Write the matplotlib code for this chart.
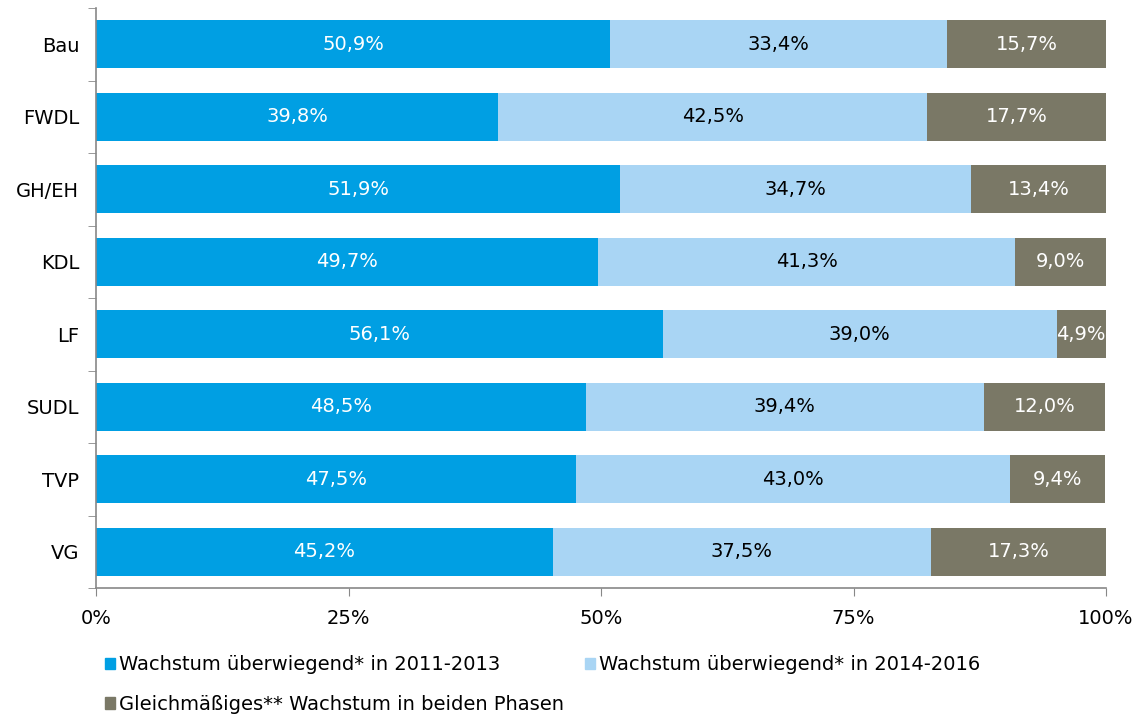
import matplotlib
matplotlib.use("Agg")
import matplotlib.pyplot as plt
from matplotlib.patches import Patch
import numpy as np

categories = ["Bau", "FWDL", "GH/EH", "KDL", "LF", "SUDL", "TVP", "VG"]
s1 = [50.9, 39.8, 51.9, 49.7, 56.1, 48.5, 47.5, 45.2]
s2 = [33.4, 42.5, 34.7, 41.3, 39.0, 39.4, 43.0, 37.5]
s3 = [15.7, 17.7, 13.4, 9.0, 4.9, 12.0, 9.4, 17.3]
series_names = ["Wachstum überwiegend* in 2011-2013",
                "Wachstum überwiegend* in 2014-2016",
                "Gleichmäßiges** Wachstum in beiden Phasen"]
colors = ["#009FE3", "#A9D5F4", "#7A7866"]
text_colors = ["white", "black", "white"]
xticks = [0, 25, 50, 75, 100]
xticklabels = ["0%", "25%", "50%", "75%", "100%"]

FS = 14
plt.rcParams['font.family'] = ['DejaVu Sans']
fig = plt.figure(figsize=(11.44, 7.16), dpi=100)
ax = fig.add_axes([96/1144, 1-588/716, (1106-96)/1144, (588-8)/716])

y = np.arange(len(categories))
left = np.zeros(len(categories))
for vals, col, tc in zip([s1, s2, s3], colors, text_colors):
    vals = np.array(vals)
    ax.barh(y, vals, left=left, height=0.66, color=col)
    for yi, l, v in zip(y, left, vals):
        ax.text(l + v/2, yi, f"{v:.1f}%".replace(".", ","), ha="center", va="center",
                color=tc, fontsize=FS)
    left = left + vals

ax.set_xlim(0, 100)
ax.set_ylim(len(categories)-0.5, -0.5)
ax.set_yticks(y)
ax.set_yticklabels(categories, fontsize=FS)
ax.set_yticks(np.arange(-0.5, len(categories), 1), minor=True)
ax.tick_params(axis="y", which="major", length=0, pad=12)
ax.tick_params(axis="y", which="minor", length=6, color="#888888", direction="out")
ax.set_xticks(xticks)
ax.set_xticklabels(xticklabels, fontsize=FS)
ax.tick_params(axis="x", length=6, color="#888888", pad=9)
for s in ["top", "right"]:
    ax.spines[s].set_visible(False)
for s in ["left", "bottom"]:
    ax.spines[s].set_color("#888888")
    ax.spines[s].set_linewidth(1.2)

handles = [Patch(color=c) for c in colors]
order = [0, 2, 1]
fig.legend([handles[i] for i in order], [series_names[i] for i in order],
           loc="upper left", bbox_to_anchor=(87/1144, 1-638/716),
           ncol=2, frameon=False, fontsize=FS, handlelength=0.55, handleheight=0.55,
           handletextpad=0.2, columnspacing=1.05, labelspacing=1.05)

fig.savefig("out.png", dpi=100)
